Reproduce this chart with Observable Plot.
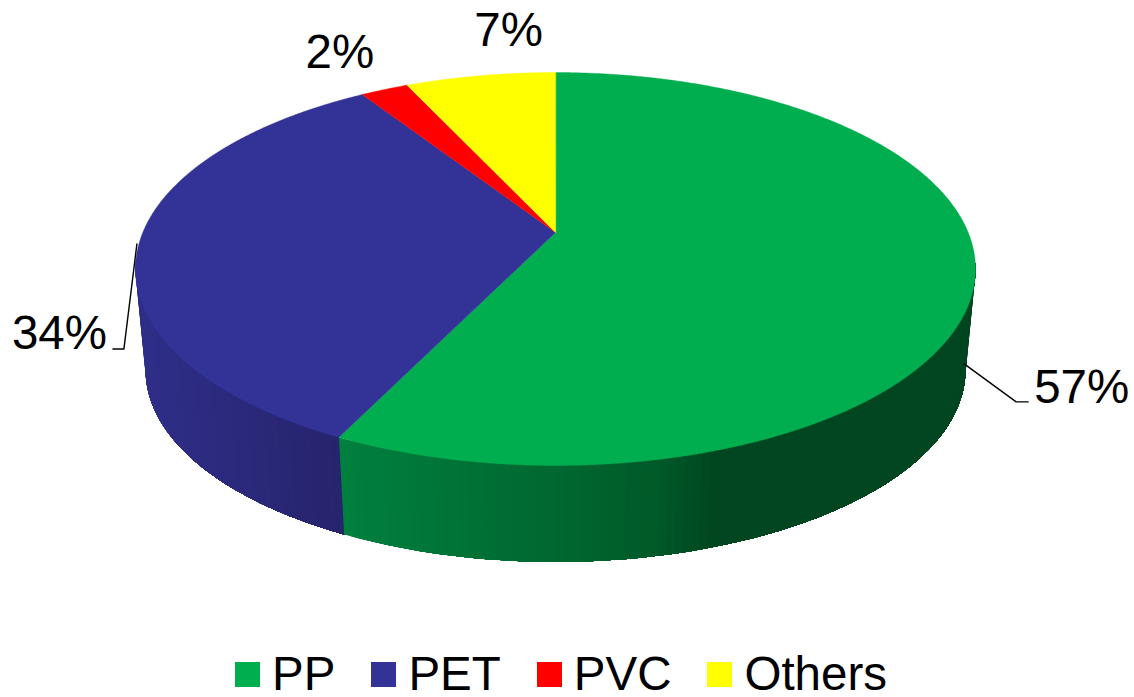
<!DOCTYPE html>
<html>
<head>
<meta charset="utf-8">
<script src="https://cdn.jsdelivr.net/npm/d3@7"></script>
<script src="https://cdn.jsdelivr.net/npm/@observablehq/plot@0.6"></script>
<style>
  html, body { margin: 0; padding: 0; background: #fff; overflow: hidden; }
  svg { display: block; }
  #legend { display: flex; height: 47px; padding-left: 235px;
            font: 47.5px/47px "Liberation Sans", Arial, sans-serif; color: #000; white-space: nowrap; }
  #legend .item { display: flex; align-items: center; margin-right: 36px; }
  #legend .swatch { width: 25px; height: 25px; margin-right: 12px; position: relative; top: 1px; }
</style>
</head>
<body>
<div id="chart"></div>
<div id="legend"></div>
<script>
// Data
const categories = ["PP", "PET", "PVC", "Others"];
const shares = [57.2, 33.7, 2.2, 6.9];
const colors = ["#00AE50", "#333397", "#FF0000", "#FFFF00"];

// Side-wall shading stops (position across the pie, colour)
const ppWallStops = [-0.52, 0, 0.24, 0.39, 1];
const ppWallColors = ["#00803e", "#006830", "#005a29", "#004620", "#004620"];
const petWallStops = [-1, -0.52];
const petWallColors = ["#2f2e88", "#26246c"];

// Projection of the tilted disc
const k = 0.1857;           // perspective
const pxX = 412.7, pxY = 189.7, cx = 555, cy = 232;
const depth = 102 / pxY;    // wall height, in y units
const shrink = 0.976;       // lower face is further from the viewer

function rim(angleDeg, lower = false) {
  const a = angleDeg * Math.PI / 180;
  const u = Math.sin(a), v = Math.cos(a), w = 1 + k * v;
  const s = lower ? shrink : 1;
  return {x: s * u / w, y: s * v / w - (lower ? depth : 0)};
}

const cum = d3.cumsum(shares);
const startAngle = i => (i === 0 ? 0 : cum[i - 1]) * 3.6;
const endAngle = i => cum[i] * 3.6;

// Top slices
const top_ = [];
categories.forEach((c, i) => {
  const color = colors[i];
  top_.push({x: 0, y: 0, c, color});
  for (const a of d3.range(startAngle(i), endAngle(i), 0.25)) top_.push({...rim(a), c, color});
  top_.push({...rim(endAngle(i)), c, color});
});

// Walls: each strip spans from the wall's start to its own end and the next
// strip drawn paints over the remainder, so no seams show.
function strips(name, from, to, stops, cols) {
  const shade = d3.scaleLinear().domain(stops).range(cols).interpolate(d3.interpolateRgb).clamp(true);
  const step = 1;
  const out = [];
  for (const a of d3.range(from, to, step).reverse()) {
    const b = Math.min(a + step, to);
    const color = shade(rim((a + b) / 2).x);
    const z = name + a;
    const pts = [...d3.range(from, b, step), b];
    for (const t of pts) out.push({...rim(t), z, color});
    for (const t of pts.slice().reverse()) out.push({...rim(t, true), z, color});
  }
  return out;
}
const walls = [
  ...strips("PET", endAngle(0), 262, petWallStops, petWallColors),
  ...strips("PP", 99, endAngle(0), ppWallStops, ppWallColors)
];

// Labels: offsets in pixels from each slice's mid-rim point
const labelOffsets = {
  PP: {text: [59, 126], leader: [[-11, 87], [41, 125], [53, 125]]},
  PET: {text: [-127, 105], leader: [[-2, 0], [-15, 105], [-26, 105]]},
  PVC: {text: [-79, -22], leader: null},
  Others: {text: [-6, -30], leader: null}
};
const off = (p, [dx, dy]) => ({x: p.x + dx / pxX, y: p.y - dy / pxY});

const labels = [], leaders = [];
categories.forEach((c, i) => {
  const mid = rim((startAngle(i) + endAngle(i)) / 2);
  const o = labelOffsets[c];
  labels.push({...off(mid, o.text), text: Math.round(shares[i]) + "%"});
  if (o.leader) o.leader.forEach(d => leaders.push({...off(mid, d), c}));
});

const chart = Plot.plot({
  width: 1134,
  height: 650,
  margin: 0,
  style: {background: "#fff"},
  x: {domain: [-1, 1], range: [cx - pxX, cx + pxX], axis: null},
  y: {domain: [-1, 1], range: [cy + pxY, cy - pxY], axis: null},
  color: {type: "identity"},
  marks: [
    Plot.line(walls, {x: "x", y: "y", z: "z", fill: "color", stroke: null, curve: "linear-closed"}),
    Plot.line(top_, {x: "x", y: "y", z: "c", fill: "color", stroke: "color", strokeWidth: 0.4, curve: "linear-closed"}),
    Plot.line(leaders, {x: "x", y: "y", z: "c", stroke: "#000", strokeWidth: 1.4, curve: "linear"}),
    Plot.text(labels, {
      x: "x", y: "y", text: "text", textAnchor: "start", lineAnchor: "bottom",
      fontFamily: "Liberation Sans, Arial, sans-serif", fontSize: 47.5, fill: "#000"
    })
  ]
});
document.getElementById("chart").append(chart);

const legend = document.getElementById("legend");
categories.forEach((c, i) => {
  const item = document.createElement("div");
  item.className = "item";
  const sw = document.createElement("span");
  sw.className = "swatch";
  sw.style.background = colors[i];
  item.append(sw, document.createTextNode(c));
  legend.append(item);
});
</script>
</body>
</html>
